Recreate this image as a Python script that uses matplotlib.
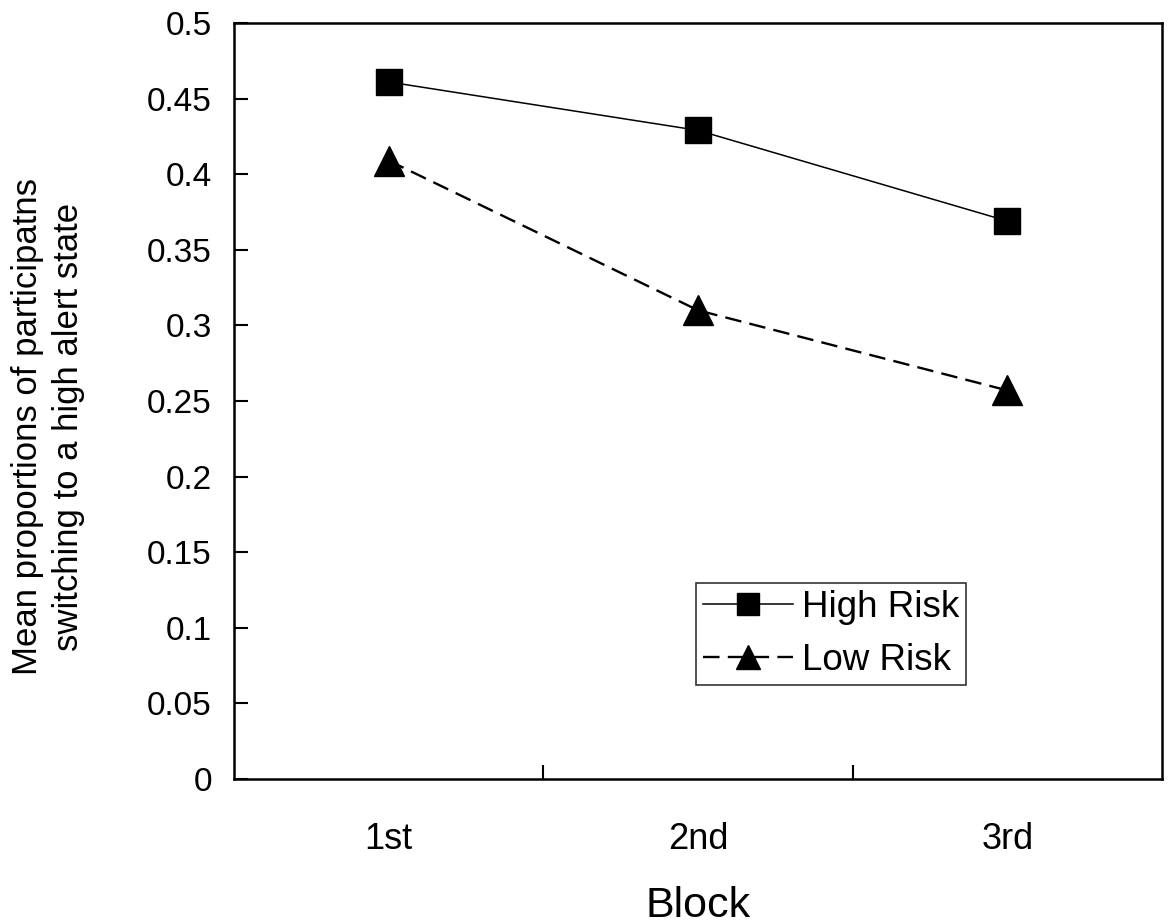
import matplotlib.pyplot as plt
import numpy as np

plt.rcParams['font.family'] = ['Liberation Sans', 'DejaVu Sans']

blocks = ['1st', '2nd', '3rd']
high_risk = [0.461, 0.429, 0.369]
low_risk = [0.409, 0.310, 0.257]

x = np.arange(1, len(blocks) + 1)

fig = plt.figure(figsize=(11.7, 9.24), dpi=100)
ax = fig.add_axes([234 / 1170, 1 - 779 / 924, 928 / 1170, 756 / 924])

ax.plot(x, high_risk, color='black', linewidth=1.1, marker='s',
        markersize=19, label='High Risk')
ax.plot(x, low_risk, color='black', linewidth=1.7, marker='^',
        markersize=22, dashes=(7, 3.5), label='Low Risk')

ax.set_xlim(0.5, 3.5)
ax.set_ylim(0, 0.5)
ax.set_yticks(np.arange(0, 0.501, 0.05))
ax.set_yticklabels(['0', '0.05', '0.1', '0.15', '0.2', '0.25', '0.3',
                    '0.35', '0.4', '0.45', '0.5'])
# category labels sit between the major ticks
ax.set_xticks([1.5, 2.5])
ax.set_xticklabels([])
ax.set_xticks(x, minor=True)
ax.set_xticklabels(blocks, minor=True)

ax.tick_params(axis='y', direction='in', length=10, width=1.5,
               labelsize=24, pad=16)
ax.tick_params(axis='x', which='major', direction='in', length=10, width=1.5)
ax.tick_params(axis='x', which='minor', length=0, labelsize=26, pad=31)

for spine in ax.spines.values():
    spine.set_linewidth(1.8)

ax.set_xlabel('Block', fontsize=31, labelpad=21)
ax.set_ylabel('Mean proportions of participatns\nswitching to a high alert state',
              fontsize=25, linespacing=1.3)
ax.yaxis.set_label_coords(-0.161, 0.466)

leg = ax.legend(loc='upper left', bbox_to_anchor=(0.498, 0.259),
                fontsize=26.5, frameon=True, fancybox=False, edgecolor='black',
                handlelength=2.45, handletextpad=0.25, borderpad=0.18,
                labelspacing=0.5, borderaxespad=0, markerscale=0.8)
leg.get_frame().set_linewidth(1.2)

fig.savefig('out.png', dpi=100)
